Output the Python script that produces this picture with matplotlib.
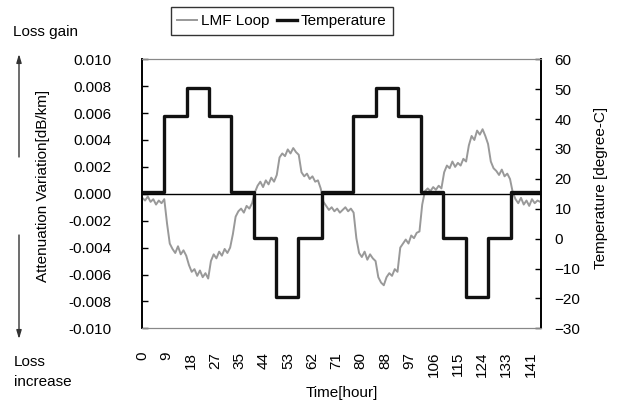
import matplotlib
matplotlib.use("Agg")
import matplotlib.pyplot as plt
import numpy as np

plt.rcParams['font.family'] = ['Liberation Sans', 'DejaVu Sans']

lmf_hours = list(range(0, 146))
lmf_values = [
    -0.0003, -0.0005, -0.0002, -0.0006, -0.0004, -0.0008, -0.0005, -0.0007, -0.0004, -0.0022,
    -0.0037, -0.0041, -0.0044, -0.0039, -0.0045, -0.0042, -0.0046, -0.0053, -0.0058, -0.0056,
    -0.0061, -0.0057, -0.0062, -0.0059, -0.0063, -0.0050, -0.0045, -0.0048, -0.0043, -0.0046,
    -0.0041, -0.0044, -0.0040, -0.0030, -0.0017, -0.0013, -0.0011, -0.0014, -0.0009, -0.0011,
    -0.0007, 0.0001, 0.0006, 0.0009, 0.0005, 0.0010, 0.0007, 0.0012, 0.0009, 0.0014,
    0.0027, 0.0030, 0.0028, 0.0033, 0.0030, 0.0034, 0.0031, 0.0029, 0.0016, 0.0013,
    0.0015, 0.0011, 0.0013, 0.0009, 0.0010, 0.0004, -0.0006, -0.0009, -0.0012, -0.0010,
    -0.0013, -0.0011, -0.0014, -0.0012, -0.0010, -0.0013, -0.0011, -0.0014, -0.0033, -0.0044,
    -0.0047, -0.0043, -0.0049, -0.0045, -0.0048, -0.0050, -0.0062, -0.0066, -0.0068, -0.0062,
    -0.0059, -0.0061, -0.0056, -0.0058, -0.0040, -0.0037, -0.0034, -0.0037, -0.0031, -0.0033,
    -0.0029, -0.0028, -0.0008, 0.0002, 0.0004, 0.0002, 0.0005, 0.0003, 0.0006, 0.0004,
    0.0016, 0.0021, 0.0019, 0.0024, 0.0020, 0.0023, 0.0021, 0.0026, 0.0024, 0.0036,
    0.0043, 0.0040, 0.0047, 0.0044, 0.0048, 0.0043, 0.0037, 0.0024, 0.0019, 0.0017,
    0.0014, 0.0018, 0.0013, 0.0015, 0.0011, 0.0001, -0.0004, -0.0007, -0.0003, -0.0008,
    -0.0005, -0.0009, -0.0004, -0.0007, -0.0005, -0.0006,
]

# temperature steps: start hour of each step and its level [degree-C]
temp_hours = [0, 8.0, 16.3, 24.4, 32.3, 40.8, 48.8, 56.8, 65.4, 76.9,
              85.1, 93.2, 101.4, 109.4, 118.0, 126.0, 134.2, 145.2]
temp_levels = [15.5, 41, 50.5, 41, 15.5, 0.3, -19.5, 0.3, 15.5, 41,
               50.5, 41, 15.5, 0.3, -19.5, 0.3, 15.5, 15.5]

# x tick labels (category labels every 8.84 h)
xtick_step = 8.84
xtick_labels = ['0', '9', '18', '27', '35', '44', '53', '62', '71', '80',
                '88', '97', '106', '115', '124', '133', '141']

fig = plt.figure(figsize=(6.18, 4.08), dpi=100)
ax = fig.add_axes([0.2303, 0.1953, 0.6447, 0.6594])
ax2 = ax.twinx()

ax.plot(lmf_hours, lmf_values, color='#999999', lw=1.4, label='LMF Loop')
ax.axhline(0, color='black', lw=1)
ax2.step(temp_hours, temp_levels, where='post', color='#111111', lw=2.4,
         label='Temperature')

ax.set_xlim(0, 145.2)
ax.set_ylim(-0.010, 0.010)
ax2.set_ylim(-30, 60)

ax.set_yticks(np.arange(-0.010, 0.0101, 0.002))
ax.yaxis.set_major_formatter(matplotlib.ticker.FormatStrFormatter('%.3f'))
ax2.set_yticks(range(-30, 61, 10))

ax.set_xticks([i * xtick_step for i in range(len(xtick_labels))])
ax.set_xticklabels(xtick_labels, rotation=90)

ax.tick_params(axis='x', length=0, pad=17, labelsize=11)
ax.tick_params(axis='y', direction='in', length=4.5, width=1, pad=22, labelsize=11)
ax2.tick_params(axis='y', direction='in', length=4.5, width=1, pad=10, labelsize=11)

# spines: black axes at left/right, gray plot border top/bottom
for a in (ax, ax2):
    a.spines['top'].set_color('#888888')
    a.spines['bottom'].set_color('#888888')
    a.spines['left'].set_color('black')
    a.spines['right'].set_color('black')
    a.spines['left'].set_linewidth(1.2)
    a.spines['right'].set_linewidth(1.2)

ax.set_xlabel('Time[hour]', fontsize=11, labelpad=6)
fig.text(43 / 618, 1 - 186 / 408, 'Attenuation Variation[dB/km]', rotation=90,
         ha='center', va='center', fontsize=11)
fig.text(601 / 618, 1 - 188 / 408, 'Temperature [degree-C]', rotation=90,
         ha='center', va='center', fontsize=11)

# loss gain / loss increase annotations with arrows
fig.text(13 / 618, 1 - 32 / 408, 'Loss gain', ha='left', va='center', fontsize=11)
fig.text(14 / 618, 1 - 362 / 408, 'Loss', ha='left', va='center', fontsize=11)
fig.text(14 / 618, 1 - 382 / 408, 'increase', ha='left', va='center', fontsize=11)
arrow_style = dict(arrowstyle='-|>,head_length=0.5,head_width=0.15', mutation_scale=10,
                   color='#333333', lw=1, shrinkA=0, shrinkB=0)
fig.add_artist(matplotlib.patches.FancyArrowPatch(
    (19 / 618, 1 - 157 / 408), (19 / 618, 1 - 54 / 408),
    transform=fig.transFigure, **arrow_style))
fig.add_artist(matplotlib.patches.FancyArrowPatch(
    (19 / 618, 1 - 235 / 408), (19 / 618, 1 - 339 / 408),
    transform=fig.transFigure, **arrow_style))

# legend
h1, l1 = ax.get_legend_handles_labels()
h2, l2 = ax2.get_legend_handles_labels()
leg = fig.legend(h1 + h2, l1 + l2, loc='center', bbox_to_anchor=(282 / 618, 1 - 21 / 408),
                 ncol=2, fontsize=11, frameon=True, fancybox=False, edgecolor='black',
                 handlelength=1.3, handletextpad=0.25, columnspacing=0.5,
                 borderpad=0.45, borderaxespad=0)
leg.get_frame().set_linewidth(1)

fig.savefig('out.png', dpi=100)
